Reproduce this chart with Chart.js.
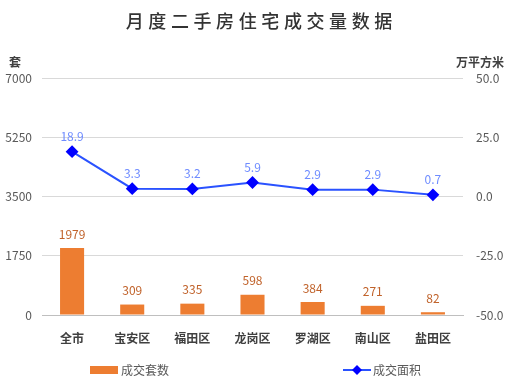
<!DOCTYPE html>
<html>
<head>
<meta charset="utf-8">
<script src="https://cdn.jsdelivr.net/npm/chart.js@4/dist/chart.umd.min.js"></script>
<style>
  html, body { margin: 0; padding: 0; background: #fff; }
  #wrap { width: 509px; height: 384px; position: relative; }
</style>
</head>
<body>
<div id="wrap"><canvas id="c" width="509" height="384"></canvas></div>
<script>
// ── Data ────────────────────────────────────────────────
const districts = ["全市", "宝安区", "福田区", "龙岗区", "罗湖区", "南山区", "盐田区"];
const unitsSold = [1979, 309, 335, 598, 384, 271, 82];
const areaSold  = [18.9, 3.3, 3.2, 5.9, 2.9, 2.9, 0.7];
const leftTicks  = [0, 1750, 3500, 5250, 7000];
const rightTicks = [-50, -25, 0, 25, 50];

const FONT = "'Noto Sans CJK SC', 'Noto Sans', sans-serif";

// ── Extra drawing: title, axis units, value labels, legend ──
const decorPlugin = {
  id: "decor",
  afterDraw(chart) {
    const ctx = chart.ctx;
    ctx.save();

    // title, spaced out char by char
    const title = "月度二手房住宅成交量数据";
    ctx.font = "500 18px " + FONT;
    ctx.fillStyle = "#333";
    ctx.textBaseline = "middle";
    ctx.textAlign = "center";
    const step = 22.6;
    const start = 259 - step * (title.length - 1) / 2;
    [...title].forEach((ch, i) => ctx.fillText(ch, start + i * step, 21));

    // axis units
    ctx.font = "bold 12px " + FONT;
    ctx.fillStyle = "#404040";
    ctx.textAlign = "left";
    ctx.fillText("套", 9, 62);
    ctx.textAlign = "right";
    ctx.fillText("万平方米", 504, 62);

    // bar labels
    const barMeta = chart.getDatasetMeta(0);
    ctx.font = "12px " + FONT;
    ctx.fillStyle = "#c0622a";
    ctx.textAlign = "center";
    barMeta.data.forEach((el, i) => {
      ctx.fillText(String(unitsSold[i]), el.x, el.y - 14);
    });

    // line labels
    const lineMeta = chart.getDatasetMeta(1);
    ctx.fillStyle = "#6f8cff";
    lineMeta.data.forEach((el, i) => {
      ctx.fillText(areaSold[i].toFixed(1), el.x, el.y - 15);
    });

    // legend
    ctx.fillStyle = "#ed7d31";
    ctx.fillRect(90, 366, 28, 8);
    ctx.fillStyle = "#595959";
    ctx.textAlign = "left";
    ctx.font = "12px " + FONT;
    ctx.fillText("成交套数", 121, 370);

    ctx.strokeStyle = "#2a52ff";
    ctx.lineWidth = 2;
    ctx.beginPath();
    ctx.moveTo(343, 370);
    ctx.lineTo(371, 370);
    ctx.stroke();
    ctx.fillStyle = "#0000ff";
    ctx.beginPath();
    ctx.moveTo(357, 365); ctx.lineTo(362, 370); ctx.lineTo(357, 375); ctx.lineTo(352, 370);
    ctx.closePath();
    ctx.fill();
    ctx.fillStyle = "#595959";
    ctx.fillText("成交面积", 373, 370);

    ctx.restore();
  }
};

new Chart(document.getElementById("c"), {
  data: {
    labels: districts,
    datasets: [
      {
        type: "bar",
        label: "成交套数",
        data: unitsSold,
        backgroundColor: "#ed7d31",
        yAxisID: "y",
        categoryPercentage: 1,
        barPercentage: 0.4,
        order: 2
      },
      {
        type: "line",
        label: "成交面积",
        data: areaSold,
        yAxisID: "y1",
        borderColor: "#2a52ff",
        borderWidth: 2,
        tension: 0,
        pointStyle: "rectRot",
        pointRadius: 5,
        pointBackgroundColor: "#0000ff",
        pointBorderColor: "#0000ff",
        order: 1
      }
    ]
  },
  options: {
    responsive: false,
    animation: false,
    layout: { padding: { top: 78, bottom: 30, left: 0, right: 0 } },
    plugins: {
      legend: { display: false },
      tooltip: { enabled: false }
    },
    scales: {
      x: {
        grid: { display: false },
        border: { color: "#bfbfbf" },
        ticks: { color: "#404040", font: { family: FONT, size: 12, weight: "bold" }, padding: 8 },
        afterFit(s) { s.height = 39; }
      },
      y: {
        position: "left",
        min: 0, max: 7000,
        afterBuildTicks(s) { s.ticks = leftTicks.map(v => ({ value: v })); },
        grid: { color: "#d9d9d9", drawTicks: false },
        border: { display: false },
        ticks: {
          color: "#595959", font: { family: FONT, size: 12 }, padding: 10,
          callback: v => String(v)
        },
        afterFit(s) { s.width = 42; }
      },
      y1: {
        position: "right",
        min: -50, max: 50,
        afterBuildTicks(s) { s.ticks = rightTicks.map(v => ({ value: v })); },
        grid: { display: false, drawTicks: false },
        border: { display: false },
        ticks: {
          color: "#595959", font: { family: FONT, size: 12 }, padding: 13,
          callback: v => Number(v).toFixed(1)
        },
        afterFit(s) { s.width = 46; }
      }
    }
  },
  plugins: [decorPlugin]
});
</script>
</body>
</html>
